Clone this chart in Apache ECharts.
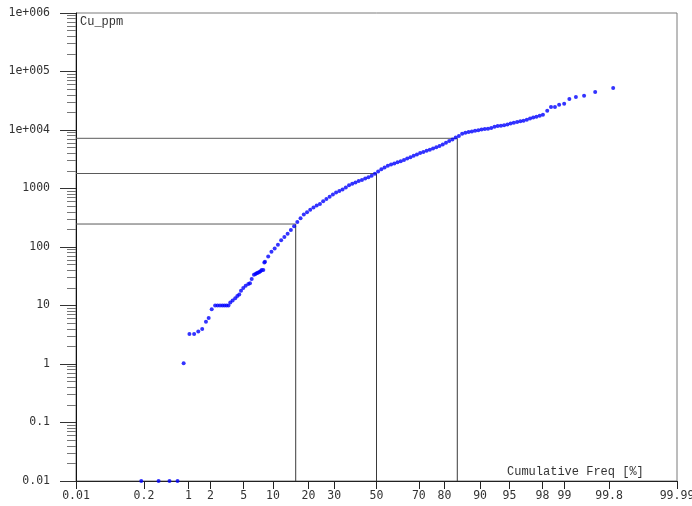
<!DOCTYPE html>
<html>
<head>
<meta charset="utf-8">
<script src="https://cdn.jsdelivr.net/npm/echarts@6/dist/echarts.min.js"></script>
<style>
  html, body { margin: 0; padding: 0; background: #fff; }
  #chart { width: 692px; height: 506px; }
</style>
</head>
<body>
<div id="chart"></div>
<script>
// Cumulative frequency (%) of each sample and its Cu grade (ppm), sorted by grade
const cumFreq = [
  0.18, 0.35, 0.52, 0.69, 0.85, 1.03, 1.20, 1.37, 1.55, 1.74, 1.89, 2.07,
  2.29, 2.46, 2.64, 2.82, 2.99, 3.17, 3.35, 3.52, 3.75, 4.02, 4.25, 4.47,
  4.68, 4.96, 5.27, 5.63, 5.87, 6.12, 6.47, 6.70, 6.91, 7.10, 7.35, 7.55,
  7.77, 8.06, 8.25,
  8.38, 9.01, 9.68, 10.38, 11.12, 11.90, 12.71, 13.57, 14.46, 15.39, 16.35,
  17.36, 18.41, 19.49, 20.61, 21.77, 22.96, 24.20, 25.46, 26.76, 28.10, 29.46,
  30.85, 32.28, 33.72, 35.20, 36.69, 38.21, 39.74, 41.29, 42.86, 44.43, 46.02,
  47.61, 49.20, 50.80, 52.39, 53.98, 55.57, 57.14, 58.71, 60.26, 61.79, 63.31,
  64.80, 66.28, 67.72, 69.15, 70.54, 71.90, 73.24, 74.54, 75.80, 77.04, 78.23,
  79.39, 80.51, 81.59, 82.64, 83.65, 84.61, 85.54, 86.43, 87.29, 88.10, 88.88,
  89.62, 90.32, 90.99, 91.62, 92.22, 92.79, 93.32, 93.82, 94.29, 94.74, 95.15,
  95.54, 95.91, 96.25, 96.56, 96.86, 97.13, 97.38, 97.61, 97.83, 98.03,
  98.27, 98.46, 98.64, 98.81, 98.99, 99.15, 99.32, 99.49, 99.66, 99.83
];
const cuPpm = [
  0.01, 0.01, 0.01, 0.01, 1.03, 3.27, 3.27, 3.58, 3.98, 5.25, 6.14, 8.65,
  10, 10, 10, 10, 10, 10, 10, 11.2, 12.2, 13.3, 14.6, 15.4,
  17.8, 20.0, 21.7, 23.2, 24.1, 28.5, 33.4, 34.5, 35.7, 36.3, 37.2, 38.5,
  40.6, 40.6, 54.2,
  56.2, 68.7, 83.3, 94.5, 109, 130, 148, 169, 196, 227, 268,
  309, 359, 392, 434, 473, 510, 545, 607, 664, 721, 789,
  851, 903, 962, 1036, 1135, 1203, 1267, 1339, 1403, 1477, 1561,
  1648, 1792, 1954, 2139, 2278, 2437, 2564, 2678, 2805, 2931, 3084,
  3251, 3420, 3614, 3819, 4036, 4207, 4416, 4592, 4819, 5070, 5311,
  5679, 6073, 6500, 6887, 7430, 7910, 8630, 8999, 9222, 9440, 9700,
  9932, 10210, 10420, 10540, 10840, 11410, 11680, 11860, 12100, 12450, 12890,
  13300, 13670, 14060, 14390, 14920, 15750, 16320, 16910, 17460, 18230,
  21330, 24660, 24660, 27040, 28110, 33830, 36580, 38550, 44570, 52140
];

// Percentile guide lines (mean - 1 sd, median, mean + 1 sd)
const refFreq = [15.87, 50, 84.13];
const refPpm = [247, 1804, 7212];

// Axis ticks
const xTickPercents = [0.01, 0.2, 1, 2, 5, 10, 20, 30, 50, 70, 80, 90, 95, 98, 99, 99.8, 99.99];
const xTickLabels = ['0.01', '0.2', '1', '2', '5', '10', '20', '30', '50', '70', '80', '90', '95', '98', '99', '99.8', '99.99'];
const yTickExponents = [-2, -1, 0, 1, 2, 3, 4, 5, 6];
const yTickLabels = ['0.01', '0.1', '1', '10', '100', '1000', '1e+004', '1e+005', '1e+006'];

// Inverse of the standard normal CDF (Acklam's rational approximation),
// used to place cumulative frequencies on a probability scale.
function probit(p) {
  const a = [-3.969683028665376e+01, 2.209460984245205e+02, -2.759285104469687e+02, 1.383577518672690e+02, -3.066479806614716e+01, 2.506628277459239e+00];
  const b = [-5.447609879822406e+01, 1.615858368580409e+02, -1.556989798598866e+02, 6.680131188771972e+01, -1.328068155288572e+01];
  const c = [-7.784894002430293e-03, -3.223964580411365e-01, -2.400758277161838e+00, -2.549732539343734e+00, 4.374664141464968e+00, 2.938163982698783e+00];
  const d = [7.784695709041462e-03, 3.224671290700398e-01, 2.445134137142996e+00, 3.754408661907416e+00];
  const pl = 0.02425, ph = 1 - pl;
  let q, r;
  if (p < pl) {
    q = Math.sqrt(-2 * Math.log(p));
    return (((((c[0] * q + c[1]) * q + c[2]) * q + c[3]) * q + c[4]) * q + c[5]) /
      ((((d[0] * q + d[1]) * q + d[2]) * q + d[3]) * q + 1);
  }
  if (p <= ph) {
    q = p - 0.5; r = q * q;
    return (((((a[0] * r + a[1]) * r + a[2]) * r + a[3]) * r + a[4]) * r + a[5]) * q /
      (((((b[0] * r + b[1]) * r + b[2]) * r + b[3]) * r + b[4]) * r + 1);
  }
  q = Math.sqrt(-2 * Math.log(1 - p));
  return -(((((c[0] * q + c[1]) * q + c[2]) * q + c[3]) * q + c[4]) * q + c[5]) /
    ((((d[0] * q + d[1]) * q + d[2]) * q + d[3]) * q + 1);
}
const px = f => probit(f / 100);
const py = v => Math.log10(v);

const xTickPos = xTickPercents.map(px);
const xMin = xTickPos[0];
const xMax = xTickPos[xTickPos.length - 1];

// minor log ticks 2..9 within each decade
const yMinorTicks = [];
for (let e = -2; e < 6; e++) {
  for (let k = 2; k <= 9; k++) yMinorTicks.push(Math.log10(k) + e);
}

const points = cumFreq.map((f, i) => [px(f), py(cuPpm[i])]);

const guideSeries = [];
refFreq.forEach((f, i) => {
  const gx = px(f), gy = py(refPpm[i]);
  guideSeries.push({
    type: 'line', silent: true, symbol: 'none', z: 1,
    lineStyle: { color: '#3a3a3a', width: 1 },
    data: [[gx, -2], [gx, gy]]
  });
  guideSeries.push({
    type: 'line', silent: true, symbol: 'none', z: 1,
    lineStyle: { color: '#5a5a5a', width: 1 },
    data: [[xMin, gy], [gx, gy]]
  });
});

const labelFont = 'DejaVu Sans Mono';
const chart = echarts.init(document.getElementById('chart'), null, { renderer: 'canvas' });
chart.setOption({
  animation: false,
  backgroundColor: '#ffffff',
  grid: {
    left: 76, right: 15, top: 13, bottom: 25,
    outerBoundsMode: 'none', containLabel: false,
    show: true, borderColor: '#7a7a7a', borderWidth: 1, backgroundColor: 'transparent'
  },
  xAxis: {
    type: 'value', min: xMin, max: xMax,
    axisLine: { onZero: false, lineStyle: { color: '#222', width: 1 } },
    axisTick: { customValues: xTickPos, length: 8, lineStyle: { color: '#222' } },
    axisLabel: {
      customValues: xTickPos, margin: 9, fontSize: 11.5, fontFamily: labelFont, color: '#333',
      hideOverlap: false,
      formatter: v => {
        let best = 0;
        xTickPos.forEach((t, i) => { if (Math.abs(t - v) < Math.abs(xTickPos[best] - v)) best = i; });
        return xTickLabels[best];
      }
    },
    splitLine: { show: false }
  },
  yAxis: [{
    type: 'value', min: -2, max: 6, interval: 1,
    axisLine: { show: true, onZero: false, lineStyle: { color: '#111', width: 1 } },
    axisTick: { length: 16, lineStyle: { color: '#333' } },
    axisLabel: {
      margin: 26, fontSize: 11.5, fontFamily: labelFont, color: '#333',
      formatter: v => {
        const i = yTickExponents.indexOf(Math.round(v));
        return i >= 0 ? yTickLabels[i] : '';
      }
    },
    splitLine: { show: false }
  }, {
    type: 'value', min: -2, max: 6, position: 'left',
    axisLine: { show: false, onZero: false },
    axisTick: { show: true, customValues: yMinorTicks, length: 9, lineStyle: { color: '#777' } },
    axisLabel: { show: false },
    splitLine: { show: false }
  }],
  graphic: [
    { type: 'text', left: 80, top: 16, style: { text: 'Cu_ppm', font: '12px "Liberation Mono"', fill: '#333' } },
    { type: 'text', left: 507, top: 466, style: { text: 'Cumulative Freq [%]', font: '12px "Liberation Mono"', fill: '#333' } }
  ],
  series: guideSeries.concat([{
    type: 'scatter', name: 'Cu_ppm', z: 5, clip: false,
    symbol: 'circle', symbolSize: 4,
    itemStyle: { color: '#0000ff' },
    data: points
  }])
});
</script>
</body>
</html>
